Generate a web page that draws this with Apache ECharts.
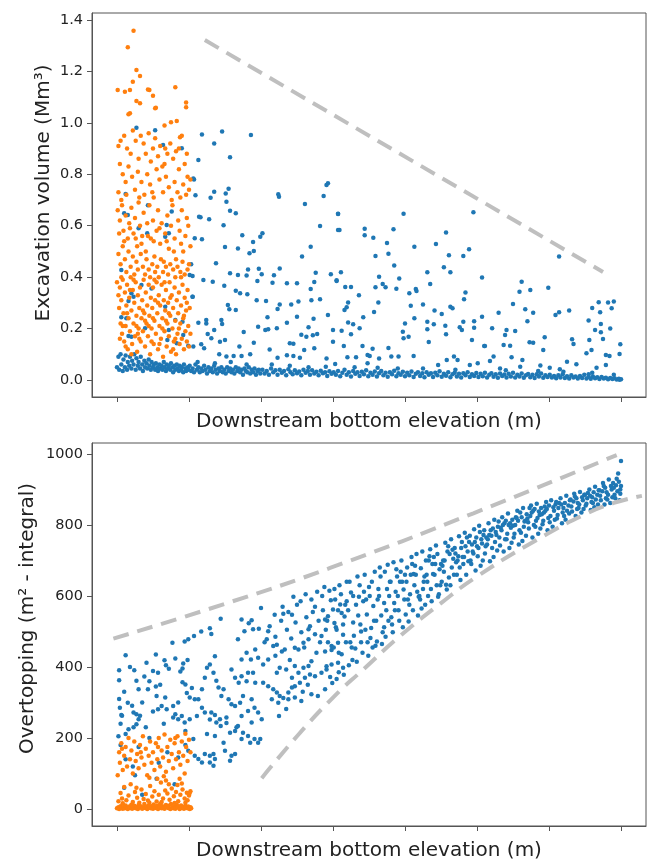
<!DOCTYPE html>
<html>
<head>
<meta charset="utf-8">
<script src="https://cdn.jsdelivr.net/npm/echarts@6/dist/echarts.min.js"></script>
<style>
html, body { margin: 0; padding: 0; background: #fff; }
#chart { width: 651px; height: 862px; }
</style>
</head>
<body>
<div id="chart"></div>
<script>
// tick positions (x is an index axis without labels)
const xTicks = [0, 1, 2, 3, 4, 5, 6, 7];
const topYTicks = [0, 0.2, 0.4, 0.6, 0.8, 1.0, 1.2, 1.4];
const botYTicks = [0, 200, 400, 600, 800, 1000];

// --- top panel: excavation volume ---
const topBlueScatter = [
  [1.18,0.955],[1.46,0.966],[1.35,0.92],[1.86,0.953],[1.13,0.856],[1.57,0.866],[1.07,0.78],[1.09,0.718],[1.30,0.709],[1.35,0.732],[1.51,0.725],[1.55,0.744],[1.52,0.693],[1.57,0.658],[1.65,0.648],[1.16,0.633],[1.28,0.625],[1.48,0.602],[1.18,0.547],[1.74,0.563],[1.50,0.517],[1.68,0.511],[1.89,0.537],[1.99,0.557],[2.02,0.571],[1.84,0.493],[1.90,0.502],[1.375,0.454],[2.24,0.722],[2.25,0.713],[2.91,0.758],[2.93,0.765],[2.61,0.684],[2.87,0.716],[3.07,0.646],[2.82,0.599],[3.07,0.583],[2.69,0.518],[2.57,0.48],[1.57,0.415],[1.68,0.408],[1.80,0.406],[1.82,0.43],[1.97,0.433],[2.01,0.411],[2.18,0.407],[2.26,0.434],[1.20,0.389],[1.33,0.382],[1.49,0.367],[1.95,0.385],[2.16,0.378],[2.36,0.376],[2.50,0.376],[2.74,0.381],[2.76,0.417],[2.97,0.411],[3.05,0.388],[2.69,0.354],[1.65,0.347],[1.71,0.337],[1.81,0.333],[1.05,0.324],[1.94,0.31],[2.07,0.307],[2.26,0.294],[2.23,0.276],[2.42,0.294],[2.52,0.305],[2.70,0.31],[2.82,0.314],[1.54,0.292],[1.56,0.275],[1.65,0.272],[2.93,0.253],[2.09,0.244],[2.50,0.246],[2.36,0.223],[2.73,0.238],[1.13,0.223],[1.24,0.233],[1.45,0.233],[1.46,0.218],[1.24,0.22],[1.96,0.207],[2.06,0.194],[2.10,0.197],[2.22,0.201],[2.66,0.205],[3.00,0.194],[1.35,0.194],[1.76,0.187],[1.26,0.179],[1.31,0.162],[1.43,0.149],[1.50,0.156],[1.90,0.145],[2.40,0.143],[2.45,0.141],[2.56,0.176],[2.63,0.168],[2.72,0.174],[2.78,0.179],[3.00,0.149],[1.17,0.139],[1.21,0.123],[1.70,0.13],[2.12,0.119],[2.60,0.117],[2.74,0.123],[1.42,0.10],[1.52,0.091],[1.62,0.093],[1.73,0.093],[1.85,0.10],[2.23,0.087],[2.36,0.096],[2.45,0.093],[2.54,0.087],[2.91,0.084],
  [3.07,0.647],[3.09,0.583],[3.98,0.647],[4.95,0.652],[4.57,0.574],[3.44,0.588],[3.44,0.563],[3.56,0.553],[3.84,0.586],[3.75,0.533],[3.77,0.491],[3.59,0.482],[4.13,0.518],[4.43,0.529],[4.61,0.485],[4.81,0.482],[4.89,0.508],[3.85,0.445],[4.54,0.438],[4.63,0.419],[4.31,0.419],[5.07,0.399],[3.11,0.419],[3.05,0.385],[3.64,0.402],[3.69,0.373],[3.92,0.395],[4.35,0.373],[3.73,0.361],[3.59,0.361],[3.88,0.355],[3.17,0.362],[3.25,0.362],[4.06,0.337],[4.15,0.354],[4.16,0.346],[4.84,0.34],[3.36,0.33],[4.82,0.314],[3.63,0.301],[3.21,0.301],[3.19,0.283],[3.16,0.272],[4.08,0.289],[4.25,0.294],[4.63,0.285],[4.66,0.279],[4.41,0.27],[4.51,0.257],[3.57,0.264],[3.42,0.244],[4.13,0.24],[5.07,0.246],[3.21,0.224],[3.28,0.217],[3.37,0.201],[3.12,0.192],[4.00,0.22],[4.31,0.227],[4.31,0.197],[4.40,0.217],[4.56,0.211],[4.76,0.205],[4.79,0.194],[4.81,0.227],[4.96,0.228],[4.96,0.203],[3.97,0.188],[3.98,0.162],[4.05,0.168],[3.25,0.178],[4.57,0.178],[4.33,0.148],[4.93,0.156],[3.15,0.132],[3.41,0.132],[3.55,0.122],[3.77,0.124],[5.10,0.132],[3.48,0.097],[3.51,0.093],[3.20,0.088],[3.32,0.088],[3.64,0.084],[3.81,0.091],[3.91,0.091],[4.12,0.093],[4.58,0.078],[4.68,0.091],[4.73,0.078],[4.46,0.058],[4.90,0.058],[5.01,0.065],[3.03,0.062],[3.48,0.065],
  [6.14,0.48],[5.62,0.382],[5.59,0.343],[5.74,0.35],[5.99,0.359],[6.69,0.302],[6.82,0.301],[6.90,0.305],[6.87,0.279],[5.50,0.296],[5.67,0.275],[5.78,0.262],[5.30,0.262],[6.09,0.253],[6.14,0.263],[6.28,0.27],[6.60,0.28],[6.71,0.263],[6.55,0.231],[5.70,0.228],[5.21,0.201],[6.72,0.218],[6.64,0.194],[6.72,0.186],[6.85,0.2],[5.41,0.194],[5.53,0.191],[5.39,0.175],[5.94,0.166],[6.32,0.158],[6.34,0.14],[6.56,0.156],[6.75,0.159],[5.11,0.132],[5.37,0.136],[5.46,0.133],[5.73,0.147],[5.78,0.145],[5.92,0.117],[6.99,0.139],[6.98,0.101],[6.79,0.097],[6.84,0.093],[6.52,0.104],[6.59,0.117],[5.23,0.091],[5.18,0.074],[5.48,0.088],[5.63,0.078],[5.60,0.052],[5.32,0.045],[5.88,0.056],[6.01,0.048],[6.25,0.071],[6.38,0.061],[6.66,0.048],[6.79,0.058],[6.55,0.022],[6.15,0.042],
  [0.27,0.981],[0.53,0.971],[0.64,0.914],[0.90,0.901],[0.12,0.723],[0.10,0.648],[0.15,0.642],[0.43,0.68],[0.76,0.655],[0.69,0.603],[0.72,0.571],[0.30,0.59],[0.42,0.571],[0.67,0.557],[0.06,0.428],[1.01,0.408],[0.34,0.369],[0.48,0.356],[0.20,0.337],[0.23,0.324],[0.16,0.307],[1.05,0.324],[0.67,0.285],[0.06,0.244],[0.13,0.24],[0.39,0.201],[0.81,0.233],[0.91,0.227],[0.72,0.194],[0.16,0.171],[0.20,0.168],[0.92,0.175],[0.70,0.156],[0.83,0.143],[0.99,0.133],[1.06,0.13],[1.06,0.784],[1.14,0.635],[1.08,0.551],[1.05,0.404],[1.03,0.45]
];
const topBlueBand = [
  [0.00,0.05],[0.02,0.09],[0.03,0.04],[0.05,0.10],[0.06,0.06],[0.08,0.035],[0.09,0.08],[0.11,0.05],[0.12,0.095],[0.14,0.04],[0.15,0.07],[0.17,0.055],[0.18,0.09],[0.20,0.045],[0.21,0.075],[0.23,0.06],[0.24,0.10],[0.26,0.04],[0.27,0.085],[0.29,0.055],[0.30,0.07],[0.32,0.045],[0.33,0.09],[0.35,0.06],[0.36,0.035],[0.38,0.075],[0.39,0.05],[0.41,0.065],[0.42,0.045],[0.44,0.08],[0.45,0.055],[0.47,0.04],[0.48,0.07],[0.50,0.05],[0.51,0.06],[0.53,0.04],[0.54,0.065],[0.56,0.05],[0.57,0.035],[0.59,0.06],[0.60,0.045],[0.62,0.055],[0.63,0.04],[0.65,0.07],[0.66,0.05],[0.68,0.035],[0.69,0.06],[0.71,0.045],[0.72,0.055],[0.74,0.04],[0.75,0.065],[0.77,0.05],[0.78,0.03],[0.80,0.055],[0.81,0.04],[0.83,0.06],[0.84,0.045],[0.86,0.035],[0.87,0.055],[0.89,0.04],[0.90,0.05],[0.92,0.03],[0.93,0.06],[0.95,0.045],[0.96,0.035],[0.98,0.05],[0.99,0.04],
  [1.01,0.055],[1.03,0.035],[1.05,0.045],[1.07,0.03],[1.09,0.06],[1.11,0.04],[1.13,0.05],[1.15,0.03],[1.17,0.045],[1.19,0.035],[1.21,0.055],[1.23,0.04],[1.25,0.025],[1.27,0.05],[1.29,0.035],[1.31,0.045],[1.33,0.03],[1.35,0.055],[1.37,0.04],[1.39,0.025],[1.41,0.045],[1.43,0.035],[1.45,0.05],[1.47,0.03],[1.49,0.04],[1.51,0.025],[1.53,0.05],[1.55,0.035],[1.57,0.045],[1.59,0.03],[1.61,0.04],[1.63,0.025],[1.65,0.05],[1.67,0.035],[1.69,0.045],[1.71,0.03],[1.73,0.04],[1.75,0.02],[1.77,0.045],[1.79,0.035],[1.81,0.03],[1.83,0.05],[1.85,0.025],[1.87,0.04],[1.89,0.03],[1.91,0.045],[1.93,0.02],[1.95,0.035],[1.97,0.04],[1.99,0.025],[1.12,0.07],[1.36,0.065],[1.58,0.07],[1.80,0.06],
  [2.02,0.04],[2.05,0.025],[2.08,0.035],[2.11,0.02],[2.14,0.045],[2.17,0.03],[2.20,0.038],[2.23,0.02],[2.26,0.04],[2.29,0.028],[2.32,0.035],[2.35,0.018],[2.38,0.042],[2.41,0.03],[2.44,0.022],[2.47,0.038],[2.50,0.026],[2.53,0.033],[2.56,0.018],[2.59,0.04],[2.62,0.028],[2.65,0.035],[2.68,0.02],[2.71,0.038],[2.74,0.025],[2.77,0.032],[2.80,0.018],[2.83,0.036],[2.86,0.026],[2.89,0.03],[2.92,0.016],[2.95,0.034],[2.98,0.024],[2.15,0.06],[2.40,0.055],[2.66,0.05],[2.90,0.052],
  [3.01,0.03],[3.04,0.02],[3.07,0.035],[3.10,0.015],[3.13,0.028],[3.16,0.04],[3.19,0.02],[3.22,0.03],[3.25,0.014],[3.28,0.035],[3.31,0.024],[3.34,0.03],[3.37,0.016],[3.40,0.032],[3.43,0.022],[3.46,0.038],[3.49,0.015],[3.52,0.028],[3.55,0.02],[3.58,0.033],[3.61,0.014],[3.64,0.026],[3.67,0.035],[3.70,0.018],[3.73,0.028],[3.76,0.013],[3.79,0.03],[3.82,0.022],[3.85,0.036],[3.88,0.015],[3.91,0.026],[3.94,0.02],[3.97,0.032],[3.30,0.05],[3.62,0.048],[3.90,0.045],
  [4.00,0.015],[4.03,0.028],[4.06,0.018],[4.09,0.033],[4.12,0.012],[4.15,0.024],[4.18,0.03],[4.21,0.016],[4.24,0.026],[4.27,0.011],[4.30,0.03],[4.33,0.02],[4.36,0.026],[4.39,0.012],[4.42,0.028],[4.45,0.018],[4.48,0.034],[4.51,0.013],[4.54,0.024],[4.57,0.017],[4.60,0.03],[4.63,0.011],[4.66,0.022],[4.69,0.028],[4.72,0.014],[4.75,0.024],[4.78,0.01],[4.81,0.026],[4.84,0.018],[4.87,0.03],[4.90,0.012],[4.93,0.022],[4.96,0.016],[4.99,0.027],[4.25,0.045],[4.70,0.04],
  [5.02,0.012],[5.05,0.024],[5.08,0.015],[5.11,0.028],[5.14,0.01],[5.17,0.02],[5.20,0.026],[5.23,0.013],[5.26,0.022],[5.29,0.009],[5.32,0.025],[5.35,0.016],[5.38,0.021],[5.41,0.01],[5.44,0.024],[5.47,0.014],[5.50,0.028],[5.53,0.01],[5.56,0.02],[5.59,0.014],[5.62,0.025],[5.65,0.009],[5.68,0.018],[5.71,0.023],[5.74,0.011],[5.77,0.02],[5.80,0.008],[5.83,0.022],[5.86,0.014],[5.89,0.025],[5.92,0.009],[5.95,0.018],[5.98,0.012],[5.40,0.038],[5.85,0.035],
  [6.01,0.02],[6.04,0.01],[6.07,0.016],[6.10,0.007],[6.13,0.018],[6.16,0.01],[6.19,0.022],[6.22,0.008],[6.25,0.015],[6.28,0.006],[6.31,0.018],[6.34,0.01],[6.37,0.014],[6.40,0.006],[6.43,0.016],[6.46,0.008],[6.49,0.02],[6.52,0.006],[6.55,0.012],[6.58,0.005],[6.61,0.014],[6.64,0.007],[6.67,0.011],[6.70,0.004],[6.73,0.012],[6.76,0.006],[6.79,0.009],[6.82,0.003],[6.85,0.008],[6.88,0.004],[6.91,0.007],[6.94,0.002],[6.97,0.005],[7.00,0.003],[6.98,0.001],[6.20,0.032],[6.60,0.028],[6.90,0.02]
];
const topOrange = [
  [0.23,1.358],[0.15,1.294],[0.27,1.206],[0.32,1.182],[0.22,1.16],[0.01,1.128],[0.11,1.121],[0.18,1.128],[0.45,1.128],[0.50,1.105],[0.81,1.138],[0.27,1.085],[0.32,1.076],[0.96,1.079],[0.96,1.061],[0.54,1.059],[0.18,1.037],[0.16,1.033],[0.75,1.002],[0.83,1.007],[0.66,0.99],[0.43,1.13],[0.53,1.057],[0.875,0.944],
  [0.02,0.91],[0.05,0.93],[0.10,0.95],[0.14,0.90],[0.19,0.88],[0.22,0.97],[0.26,0.93],[0.30,0.86],[0.33,0.95],[0.37,0.92],[0.40,0.88],[0.44,0.96],[0.47,0.85],[0.50,0.90],[0.53,0.94],[0.57,0.87],[0.60,0.91],[0.63,0.83],[0.67,0.90],[0.70,0.88],[0.74,0.92],[0.78,0.86],[0.82,0.89],[0.86,0.82],[0.90,0.95],[0.94,0.84],[0.98,0.79],[1.02,0.78],[0.04,0.84],[0.08,0.80],[0.12,0.77],[0.16,0.83],[0.21,0.79],[0.25,0.74],[0.29,0.81],[0.34,0.77],[0.38,0.72],[0.42,0.80],[0.46,0.76],[0.51,0.71],[0.55,0.82],[0.59,0.78],[0.64,0.73],[0.68,0.79],[0.72,0.75],[0.76,0.70],[0.80,0.77],[0.84,0.73],[0.88,0.71],[0.92,0.76],[0.96,0.72],[1.00,0.74],[0.02,0.73],[0.06,0.70],[0.13,0.72],[0.31,0.71],[0.49,0.73],[0.66,0.84],[0.86,0.90],[0.97,0.88],
  [0.01,0.66],[0.04,0.62],[0.07,0.68],[0.09,0.58],[0.12,0.64],[0.15,0.55],[0.17,0.61],[0.20,0.67],[0.23,0.57],[0.25,0.63],[0.28,0.52],[0.30,0.69],[0.32,0.60],[0.35,0.56],[0.37,0.65],[0.40,0.50],[0.42,0.61],[0.45,0.68],[0.47,0.55],[0.50,0.62],[0.52,0.48],[0.55,0.58],[0.57,0.66],[0.60,0.53],[0.62,0.61],[0.65,0.46],[0.67,0.57],[0.70,0.64],[0.72,0.51],[0.75,0.60],[0.77,0.68],[0.80,0.55],[0.82,0.47],[0.85,0.62],[0.87,0.58],[0.90,0.66],[0.92,0.50],[0.95,0.56],[0.97,0.63],[1.00,0.45],[1.02,0.52],[0.02,0.49],[0.05,0.45],[0.08,0.52],[0.11,0.47],[0.13,0.42],[0.16,0.50],[0.19,0.44],[0.22,0.48],[0.24,0.41],[0.27,0.46],[0.29,0.43],[0.33,0.49],[0.36,0.44],[0.39,0.41],[0.41,0.47],[0.44,0.43],[0.46,0.40],[0.49,0.45],[0.53,0.42],[0.56,0.44],[0.58,0.40],[0.61,0.47],[0.64,0.42],[0.68,0.44],[0.71,0.41],[0.74,0.45],[0.78,0.43],[0.81,0.40],[0.84,0.44],[0.88,0.42],[0.91,0.46],[0.94,0.41],[0.98,0.43],[0.03,0.57],[0.10,0.54],[0.18,0.59],[0.26,0.55],[0.34,0.53],[0.43,0.56],[0.51,0.54],[0.59,0.59],[0.69,0.54],[0.79,0.50],[0.89,0.53],[0.99,0.60],
  [0.00,0.38],[0.02,0.33],[0.03,0.28],[0.04,0.36],[0.05,0.22],[0.06,0.31],[0.07,0.18],[0.08,0.39],[0.09,0.26],[0.10,0.15],[0.11,0.34],[0.12,0.21],[0.13,0.29],[0.14,0.37],[0.15,0.12],[0.16,0.24],[0.17,0.32],[0.18,0.19],[0.19,0.40],[0.20,0.27],[0.21,0.14],[0.22,0.35],[0.23,0.22],[0.24,0.30],[0.25,0.17],[0.26,0.38],[0.27,0.25],[0.28,0.11],[0.29,0.33],[0.30,0.20],[0.31,0.28],[0.32,0.36],[0.33,0.15],[0.34,0.24],[0.35,0.31],[0.36,0.19],[0.37,0.39],[0.38,0.26],[0.39,0.13],[0.40,0.34],[0.41,0.22],[0.42,0.29],[0.43,0.17],[0.44,0.37],[0.45,0.25],[0.46,0.10],[0.47,0.32],[0.48,0.20],[0.49,0.28],[0.50,0.36],[0.51,0.14],[0.52,0.23],[0.53,0.31],[0.54,0.18],[0.55,0.38],[0.56,0.26],[0.57,0.12],[0.58,0.33],[0.59,0.21],[0.60,0.29],[0.61,0.16],[0.62,0.37],[0.63,0.24],[0.64,0.09],[0.65,0.31],[0.66,0.19],[0.67,0.27],[0.68,0.35],[0.69,0.13],[0.70,0.22],[0.71,0.30],[0.72,0.17],[0.73,0.38],[0.74,0.25],[0.75,0.11],[0.76,0.33],[0.77,0.20],[0.78,0.28],[0.79,0.15],[0.80,0.36],[0.81,0.23],[0.82,0.10],[0.83,0.31],[0.84,0.18],[0.85,0.26],[0.86,0.34],[0.87,0.14],[0.88,0.22],[0.89,0.29],[0.90,0.16],[0.91,0.37],[0.92,0.24],[0.93,0.12],[0.94,0.32],[0.95,0.19],[0.96,0.27],[0.97,0.15],[0.98,0.35],[0.99,0.21],[1.00,0.13],[1.01,0.28],[1.02,0.18],[0.06,0.40],[0.14,0.26],[0.23,0.39],[0.31,0.16],[0.44,0.21],[0.52,0.39],[0.66,0.38],[0.74,0.32],[0.89,0.40],[0.97,0.30],[0.08,0.21],[0.18,0.35],[0.27,0.21],[0.36,0.27],[0.48,0.15],[0.57,0.30],[0.63,0.20],[0.72,0.26],[0.81,0.16],[0.93,0.25],[0.04,0.16],[0.12,0.13],[0.20,0.10],[0.29,0.18],[0.39,0.23],[0.50,0.24],[0.59,0.14],[0.68,0.23],[0.78,0.12],[0.86,0.20]
];
const topEnvelope = [[1.22,1.322],[6.75,0.42]];

// --- bottom panel: overtopping ---
const botBlueLeft = [
  [0.12,433],[0.03,391],[0.03,363],[0.24,391],[0.41,412],[0.54,435],[0.50,389],[0.57,384],[0.38,373],[0.77,468],[0.94,472],[0.99,478],[1.07,487],[1.17,500],[1.29,509],[1.31,493],[1.44,536],[1.73,534],[1.83,523],[1.87,532],[2.00,566],[2.19,547],[2.31,550],[2.38,555],[2.43,547],
  [0.81,424],[0.92,410],[0.91,396],[0.88,387],[0.66,419],[0.68,405],[0.27,361],[0.30,337],[0.43,337],[0.54,345],
  [0.03,310],[0.04,285],[0.15,299],[0.21,291],[0.06,265],[0.07,263],
  [0.23,272],[0.27,267],[0.32,263],[0.30,253],[0.27,239],[0.23,230],[0.16,225],[0.12,211],
  [0.55,318],[0.67,314],[0.62,290],[0.57,281],[0.69,281],[0.78,290],
  [0.81,267],[0.78,258],[0.85,253],[0.90,262],
  [0.97,327],[1.04,341],[1.01,314],[1.08,309],[0.91,357],[0.95,351],
  [1.18,337],[1.13,309],[1.18,285],[1.22,272],[1.11,262],[1.01,253],[0.94,244],
  [1.31,272],[1.36,265],[1.29,252],[1.38,244],[1.44,234],[1.52,242],[1.43,253],[1.52,258],
  [1.22,370],[1.25,398],[1.29,407],[1.36,430],[1.34,384],[1.38,361],[1.41,342],[1.48,337],[1.45,318],
  [1.59,393],[1.64,370],[1.69,356],[1.73,374],[1.80,360],[1.82,384],[1.89,384],[1.92,356],
  [1.55,309],[1.59,295],[1.64,290],[1.71,299],[1.75,318],[1.87,309],[1.91,285],[1.96,272],[1.82,276],
  [1.57,215],[1.64,220],[1.66,230],[1.75,215],[1.82,206],[1.91,197],[1.96,187],
  [1.48,187],[1.50,164],[1.59,150],[1.57,136],[1.64,155],
  [1.22,155],[1.29,150],[1.34,155],[1.36,141],[1.29,131],[1.34,122],[1.18,131],[1.13,141],[1.08,150],
  [1.25,211],[1.36,206],[1.06,197],[0.99,164],
  [1.73,421],[1.80,440],[1.86,421],[1.92,449],[1.96,426],[2.03,407],[2.10,421],
  [1.68,478],[1.77,501],[1.89,506],[1.97,508],[2.10,501],[2.08,478],
  [2.17,459],[2.22,463],[2.29,444],[2.33,449],[2.47,454],[2.52,449],[2.59,468],[2.66,478],
  [2.66,506],[2.75,492],[2.84,487],[2.89,534],[2.93,543],[3.00,562],[3.10,576],[3.12,552],[3.02,524],
  [2.03,356],[2.10,346],[2.17,337],[2.22,328],[2.26,318],[2.31,313],[2.38,328],[2.43,342],[2.47,346],[2.54,356],[2.61,370],[2.68,379],[2.75,374],[2.84,384],[2.91,393],[2.98,407],[3.07,412],
  [2.15,309],[2.24,299],[2.38,309],[2.47,314],[2.56,304],[2.70,323],[2.79,318],[2.89,337],
  [2.43,370],[2.52,384],[2.59,398],[2.66,403],[2.70,416],[2.77,440],[2.89,444],[2.98,459],[3.07,468],[3.14,491],
  [2.26,398],[2.35,393],[2.47,403],[2.22,384],
  [1.73,262],[1.87,244],[2.01,253],[1.68,234],[1.73,197],[1.85,187],[1.99,197],
  [2.45,598],[2.55,585],[2.62,605],[2.70,590],[2.78,612],[2.85,600],[2.50,575],[2.30,570],[2.75,570],[2.88,625],[2.05,470],[2.12,515],[2.20,485],[2.28,530],[2.36,505],[2.42,480],[2.48,525],[2.56,498],[2.63,540],[2.68,515],[2.72,555],[2.80,530],[2.86,560],[2.20,432],[2.40,420],[2.60,455],[2.82,470],[2.90,505],[2.25,262],[2.35,282],[2.58,330],[2.65,350],
  [0.05,240],[0.10,330],[0.18,400],[0.35,300],[0.45,360],[0.60,350],[0.72,395],[0.85,300],[0.98,420],[0.02,205],[0.40,230],[0.65,240],[0.95,220],[0.50,275],
  [0.05,180],[0.12,140],[0.22,120],[0.30,175],[0.45,200],[0.58,130],[0.70,160],[0.85,145],[0.95,180],[0.10,60],[0.35,40],[0.55,85],[0.80,70],[0.25,95]
];
const botBlueRight = [
  [2.91,402],[2.97,588],[2.93,470],[2.99,355],[2.95,615],[2.92,530],[2.98,448],[2.96,372],
  [3.02,620],[3.08,385],[3.04,512],[3.01,455],[3.07,560],[3.05,366],[3.09,630],[3.03,590],
  [3.14,398],[3.11,605],[3.18,470],[3.16,542],[3.12,436],[3.19,640],[3.15,378],[3.17,575],
  [3.23,640],[3.27,420],[3.21,560],[3.29,488],[3.25,610],[3.22,405],[3.28,525],[3.26,455],
  [3.31,452],[3.36,598],[3.33,415],[3.38,520],[3.34,655],[3.39,470],[3.32,575],[3.37,630],
  [3.44,660],[3.41,440],[3.47,548],[3.43,612],[3.49,432],[3.45,505],[3.42,585],[3.48,470],
  [3.52,482],[3.58,668],[3.55,455],[3.51,600],[3.57,530],[3.54,640],[3.59,460],[3.56,572],
  [3.63,620],[3.61,472],[3.67,545],[3.65,680],[3.69,498],[3.62,590],[3.66,655],[3.68,465],
  [3.71,512],[3.76,688],[3.73,485],[3.78,600],[3.74,560],[3.79,640],[3.72,668],[3.77,530],
  [3.84,695],[3.81,540],[3.87,612],[3.83,498],[3.89,655],[3.85,580],[3.82,520],[3.88,675],
  [3.92,530],[3.98,618],[3.95,700],[3.91,560],[3.97,512],[3.94,668],[3.99,590],[3.96,640],
  [4.03,680],[4.01,548],[4.07,605],[4.05,528],[4.09,710],[4.02,640],[4.06,575],[4.08,660],
  [4.11,560],[4.16,718],[4.13,630],[4.18,545],[4.14,685],[4.19,598],[4.12,662],[4.17,612],
  [4.24,725],[4.21,590],[4.27,655],[4.23,565],[4.29,700],[4.25,620],[4.22,678],[4.28,575],
  [4.32,600],[4.38,690],[4.35,732],[4.31,640],[4.37,585],[4.34,712],[4.39,662],[4.36,620],
  [4.43,742],[4.41,660],[4.47,605],[4.45,718],[4.49,630],[4.42,690],[4.46,598],[4.48,675],
  [4.51,640],[4.56,750],[4.53,700],[4.58,618],[4.54,668],[4.59,725],[4.52,685],[4.57,632],
  [4.64,760],[4.61,652],[4.67,705],[4.63,630],[4.69,735],[4.65,680],[4.62,718],[4.68,660],
  [4.72,660],[4.78,735],[4.75,768],[4.71,695],[4.77,645],[4.74,712],[4.79,752],[4.76,680],
  [4.83,778],[4.81,690],[4.87,725],[4.85,660],[4.89,752],[4.82,710],[4.86,765],[4.88,698],
  [4.91,700],[4.96,788],[4.93,745],[4.98,672],[4.94,725],[4.99,765],[4.92,690],[4.97,752],
  [5.03,798],[5.01,712],[5.07,748],[5.05,685],[5.09,772],[5.02,735],[5.06,760],[5.08,700],
  [5.11,720],[5.16,805],[5.13,765],[5.18,698],[5.14,745],[5.19,785],[5.12,740],[5.17,772],
  [5.24,815],[5.21,735],[5.27,772],[5.23,710],[5.29,795],[5.25,752],[5.22,790],[5.28,728],
  [5.32,742],[5.38,805],[5.35,822],[5.31,765],[5.37,725],[5.34,785],[5.39,760],[5.36,800],
  [5.43,832],[5.41,760],[5.47,792],[5.45,735],[5.49,815],[5.42,775],[5.46,805],[5.48,750],
  [5.51,765],[5.56,840],[5.53,800],[5.58,745],[5.54,822],[5.59,785],[5.52,775],[5.57,812],
  [5.64,848],[5.61,778],[5.67,812],[5.63,755],[5.69,830],[5.65,795],[5.62,822],[5.68,770],
  [5.72,790],[5.78,840],[5.75,855],[5.71,808],[5.77,765],[5.74,825],[5.79,800],[5.76,835],
  [5.83,860],[5.81,795],[5.87,828],[5.85,775],[5.89,848],[5.82,812],[5.86,838],[5.88,790],
  [5.91,802],[5.96,865],[5.93,835],[5.98,785],[5.94,852],[5.99,820],[5.92,812],[5.97,845],
  [6.03,870],[6.01,808],[6.07,840],[6.05,795],[6.09,858],[6.02,825],[6.06,850],[6.08,815],
  [6.11,818],[6.16,875],[6.13,848],[6.18,805],[6.14,862],[6.19,835],[6.12,828],[6.17,858],
  [6.24,882],[6.21,825],[6.27,855],[6.23,815],[6.29,870],[6.25,840],[6.22,862],[6.28,832],
  [6.32,838],[6.38,875],[6.35,888],[6.31,852],[6.37,825],[6.34,866],[6.39,845],[6.36,880],
  [6.43,893],[6.41,848],[6.47,870],[6.45,835],[6.49,885],[6.42,858],[6.46,878],[6.48,845],
  [6.51,855],[6.56,900],[6.53,875],[6.58,842],[6.54,890],[6.59,865],[6.52,860],[6.57,882],
  [6.64,908],[6.61,862],[6.67,885],[6.63,850],[6.69,898],[6.65,872],[6.62,892],[6.68,858],
  [6.72,870],[6.78,905],[6.75,918],[6.71,882],[6.77,858],[6.74,895],[6.79,875],[6.76,910],
  [6.83,928],[6.81,872],[6.87,900],[6.85,862],[6.89,918],[6.82,885],[6.86,910],[6.88,878],
  [6.91,885],[6.96,945],[6.93,912],[6.98,870],[6.94,930],[6.99,900],[6.92,875],[6.97,922],[6.95,895],[7.00,980],[7.00,910],[6.99,888],
  [3.05,505],[3.14,520],[3.24,470],[3.35,545],[3.46,590],[3.53,510],[3.64,600],[3.75,620],[3.86,560],[3.93,640],[4.04,590],[4.15,660],[4.26,640],[4.33,700],[4.44,630],[4.55,700],[4.66,730],[4.73,700],[4.84,740],[4.95,720],[5.04,780],[5.15,760],[5.26,780],[5.33,792],[5.44,800],[5.55,820],[5.66,810],[5.73,848],[5.84,820],[5.95,840],
  [3.08,440],[3.19,585],[3.28,600],[3.39,500],[3.50,625],[3.60,530],[3.71,580],[3.80,640],[3.90,600],[4.00,660],[4.10,690],[4.20,600],[4.30,660],[4.40,710],[4.50,690],[4.60,740],[4.70,720],[4.80,710],[4.90,770],[5.00,740],[5.10,785],[5.20,770],[5.30,810],[5.40,812],[5.50,798],[5.60,835],[5.70,818],[5.80,845],[5.90,830],[6.00,855],[6.10,865],[6.20,848],[6.30,872],[6.40,862],[6.50,885],[6.60,878],[6.70,898],[6.80,892],[6.90,905]
];
const botOrange = [
  [0.00,2],[0.02,5],[0.03,0],[0.05,8],[0.06,3],[0.08,1],[0.09,6],[0.11,2],[0.12,10],[0.14,4],[0.15,0],[0.17,7],[0.18,3],[0.20,12],[0.21,1],[0.23,5],[0.24,9],[0.26,2],[0.27,6],[0.29,0],[0.30,11],[0.32,4],[0.33,8],[0.35,1],[0.36,5],[0.38,14],[0.39,3],[0.41,7],[0.42,0],[0.44,10],[0.45,4],[0.47,2],[0.48,8],[0.50,1],[0.51,13],[0.53,5],[0.54,3],[0.56,9],[0.57,0],[0.59,6],[0.60,15],[0.62,2],[0.63,8],[0.65,4],[0.66,1],[0.68,11],[0.69,6],[0.71,3],[0.72,9],[0.74,0],[0.75,14],[0.77,5],[0.78,2],[0.80,8],[0.81,1],[0.83,12],[0.84,4],[0.86,7],[0.87,0],[0.89,10],[0.90,3],[0.92,6],[0.93,1],[0.95,9],[0.96,4],[0.98,2],[0.99,7],[1.01,0],[1.02,5],[1.03,2],
  [0.02,22],[0.05,45],[0.07,30],[0.10,62],[0.13,25],[0.16,38],[0.19,70],[0.22,20],[0.25,48],[0.28,32],[0.31,18],[0.34,55],[0.37,28],[0.40,42],[0.43,24],[0.46,65],[0.49,35],[0.52,50],[0.55,21],[0.58,40],[0.61,75],[0.64,30],[0.67,52],[0.70,44],[0.73,26],[0.76,58],[0.79,36],[0.82,48],[0.85,22],[0.88,40],[0.91,55],[0.94,30],[0.97,46],[1.00,38],[1.02,50],[0.08,16],[0.27,60],[0.45,18],[0.62,20],[0.80,17],[0.95,18],[0.68,80],[0.56,85],[0.72,70],[0.84,68],[0.90,72],[1.01,45],[0.98,25],
  [0.01,95],[0.03,160],[0.04,130],[0.06,185],[0.08,110],[0.10,150],[0.12,175],[0.14,120],[0.16,200],[0.18,140],[0.20,165],[0.22,100],[0.24,190],[0.26,135],[0.28,155],[0.30,115],[0.32,180],[0.34,145],[0.36,205],[0.38,125],[0.40,170],[0.42,95],[0.44,150],[0.46,190],[0.48,130],[0.50,160],[0.52,110],[0.54,185],[0.56,140],[0.58,200],[0.60,120],[0.62,165],[0.64,145],[0.66,210],[0.68,105],[0.70,175],[0.72,135],[0.74,195],[0.76,155],[0.78,115],[0.80,185],[0.82,140],[0.84,205],[0.86,160],[0.88,125],[0.90,190],[0.92,150],[0.94,100],[0.96,175],[0.98,135],[1.00,195],[1.02,160],[0.07,170],[0.33,160],[0.57,175],[0.81,200],[0.95,212],[0.45,88],[0.65,92],[0.87,85]
];
const botUpperEnvelope = [[-0.05,480],[1.5,578],[2.96,679],[4.95,833],[6.94,997]];
const botLowerEnvelope = [[2.01,87],[2.5,205],[3.0,314],[3.42,393],[3.93,487],[4.5,580],[5.0,655],[5.83,758],[6.5,830],[6.9,862],[7.29,882]];

const blue = '#1f77b4';
const orange = '#ff7f0e';
const dashGray = '#bfbfbf';
const textColor = '#222';
const font = 'DejaVu Sans';

let chart = echarts.init(document.getElementById('chart'));

function xAxisFor(gridIndex) {
    return {
        gridIndex: gridIndex,
        type: 'value',
        min: -0.347,
        max: 7.347,
        name: 'Downstream bottom elevation (m)',
        nameLocation: 'middle',
        nameGap: 15,
        nameTextStyle: { fontSize: 20, color: textColor, fontFamily: font },
        axisLine: { show: true, onZero: false, lineStyle: { color: '#555', width: 1 } },
        axisTick: { show: true, customValues: xTicks, length: 5, lineStyle: { color: '#555' } },
        axisLabel: { show: false },
        splitLine: { show: false }
    };
}

function yAxisFor(gridIndex, min, max, ticks, name, fmt, gap, shift) {
    return {
        gridIndex: gridIndex,
        type: 'value',
        min: min,
        max: max,
        name: name,
        nameLocation: 'middle',
        nameGap: gap,
        nameMoveOverlap: false,
        // left padding nudges the rotated title upward a little
        nameTextStyle: { fontSize: 20, color: textColor, fontFamily: font, padding: [0, 0, 0, shift] },
        axisLine: { show: true, onZero: false, lineStyle: { color: '#555', width: 1 } },
        axisTick: { show: true, customValues: ticks, length: 5, lineStyle: { color: '#555' } },
        axisLabel: { show: true, customValues: ticks, formatter: fmt, fontSize: 14.5, color: textColor, fontFamily: font, margin: 9 },
        splitLine: { show: false }
    };
}

function dots(data, color, xi) {
    return {
        type: 'scatter',
        xAxisIndex: xi,
        yAxisIndex: xi,
        data: data,
        symbolSize: 4.5,
        itemStyle: { color: color, opacity: 1 },
        silent: true
    };
}

function envelope(data, xi, smooth) {
    return {
        type: 'line',
        xAxisIndex: xi,
        yAxisIndex: xi,
        data: data,
        symbol: 'none',
        smooth: smooth,
        silent: true,
        z: 5,
        lineStyle: { color: dashGray, width: 4, type: [16, 9] }
    };
}

let option = {
    animation: false,
    backgroundColor: '#fff',
    textStyle: { fontFamily: font },
    grid: [
        { left: 92, top: 13, width: 554, height: 384, show: true, borderColor: '#555', borderWidth: 1 },
        { left: 92, top: 443, width: 554, height: 384, show: true, borderColor: '#555', borderWidth: 1 }
    ],
    xAxis: [xAxisFor(0), xAxisFor(1)],
    yAxis: [
        yAxisFor(0, -0.0661, 1.4272, topYTicks, 'Excavation volume (Mm³)', v => v.toFixed(1), 38, 24),
        yAxisFor(1, -47.8, 1030.9, botYTicks, 'Overtopping (m² - integral)', v => String(Math.round(v)), 54, 32)
    ],
    series: [
        dots(topBlueBand, blue, 0),
        dots(topBlueScatter, blue, 0),
        dots(topOrange, orange, 0),
        envelope(topEnvelope, 0, false),
        dots(botBlueLeft, blue, 1),
        dots(botBlueRight, blue, 1),
        dots(botOrange, orange, 1),
        envelope(botUpperEnvelope, 1, true),
        envelope(botLowerEnvelope, 1, true)
    ]
};

chart.setOption(option);
</script>
</body>
</html>
